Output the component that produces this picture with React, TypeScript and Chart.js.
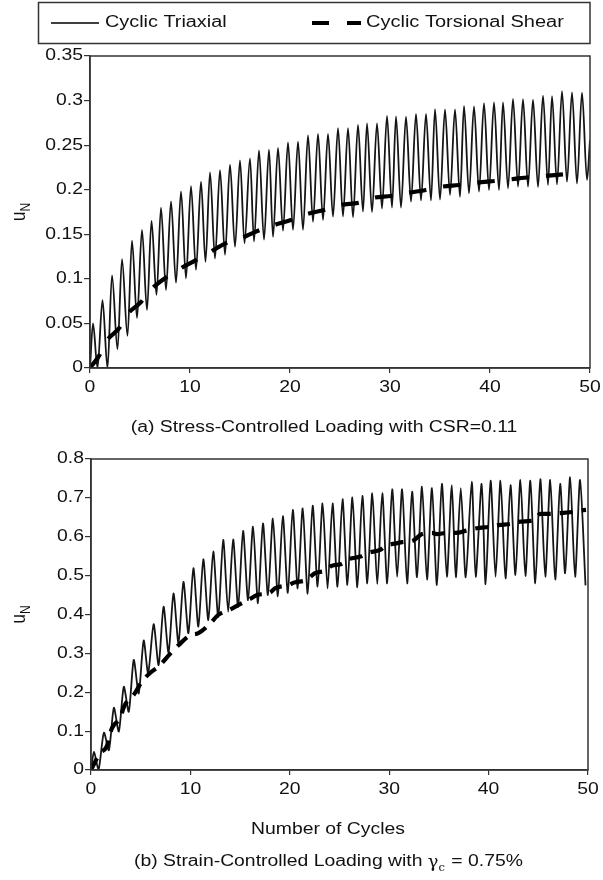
import React, { useEffect, useRef } from "react";
import { Chart, registerables } from "chart.js";

Chart.register(...registerables);

// ---------------- data ----------------
const xTickValues = [0, 10, 20, 30, 40, 50];

const yTickValuesA = [0, 0.05, 0.1, 0.15, 0.2, 0.25, 0.3, 0.35];
const yTickLabelsA = ["0", "0.05", "0.1", "0.15", "0.2", "0.25", "0.3", "0.35"];
const yTickValuesB = [0, 0.1, 0.2, 0.3, 0.4, 0.5, 0.6, 0.7, 0.8];
const yTickLabelsB = ["0", "0.1", "0.2", "0.3", "0.4", "0.5", "0.6", "0.7", "0.8"];

const legendLabels = ["Cyclic Triaxial", "Cyclic Torsional Shear"];
const captionA = "(a) Stress-Controlled Loading with CSR=0.11";
const captionBParts = ["(b) Strain-Controlled Loading with ", "\u03B3", "c", " = 0.75%"];
const xAxisTitle = "Number of Cycles";
const yAxisTitleParts = ["u", "N"];

// Panel (a) - cyclic triaxial: start, peaks, troughs, end
const triaxStartA = { x: 0, y: 0 };
const triaxPeakXA = [0.3, 1.25, 2.2, 3.2, 4.2, 5.2, 6.15, 7.1, 8.1, 9.1, 10.1, 11.1, 12.0, 13.0, 14.0, 15.0, 16.0, 16.9, 17.9, 18.8, 19.8, 20.8, 21.8, 22.8, 23.8, 24.8, 25.8, 26.8, 27.7, 28.7, 29.7, 30.6, 31.6, 32.6, 33.6, 34.5, 35.5, 36.5, 37.4, 38.4, 39.4, 40.4, 41.3, 42.3, 43.3, 44.3, 45.3, 46.2, 47.2, 48.2, 49.2];
const triaxPeakYA = [0.05, 0.076, 0.104, 0.122, 0.143, 0.155, 0.165, 0.18, 0.187, 0.198, 0.204, 0.209, 0.2195, 0.222, 0.228, 0.233, 0.235, 0.244, 0.245, 0.247, 0.253, 0.254, 0.261, 0.2625, 0.2625, 0.269, 0.269, 0.2726, 0.2745, 0.2745, 0.2827, 0.2823, 0.282, 0.285, 0.285, 0.2905, 0.29, 0.29, 0.294, 0.2935, 0.297, 0.298, 0.298, 0.3018, 0.3015, 0.301, 0.3055, 0.305, 0.3107, 0.3093, 0.309];
const triaxTroughXA = [0.75, 1.75, 2.75, 3.75, 4.7, 5.7, 6.65, 7.6, 8.6, 9.6, 10.6, 11.55, 12.5, 13.5, 14.5, 15.45, 16.4, 17.4, 18.3, 19.3, 20.3, 21.3, 22.3, 23.3, 24.3, 25.3, 26.3, 27.3, 28.2, 29.2, 30.2, 31.1, 32.1, 33.1, 34.1, 35.0, 36.0, 37.0, 37.9, 38.9, 39.9, 40.9, 41.8, 42.8, 43.8, 44.8, 45.8, 46.7, 47.7, 48.7, 49.7];
const triaxTroughYA = [0, 0, 0.021, 0.036, 0.056, 0.065, 0.082, 0.0875, 0.0957, 0.1006, 0.11, 0.119, 0.123, 0.127, 0.136, 0.14, 0.142, 0.144, 0.147, 0.154, 0.155, 0.155, 0.164, 0.166, 0.1698, 0.17, 0.169, 0.1754, 0.175, 0.179, 0.18, 0.18, 0.1866, 0.188, 0.188, 0.189, 0.194, 0.192, 0.196, 0.198, 0.1997, 0.1997, 0.2016, 0.2035, 0.2035, 0.203, 0.2053, 0.206, 0.209, 0.207, 0.211];
const triaxEndA = { x: 50, y: 0.256 };

// Panel (a) - cyclic torsional shear
const torsionXA = [0, 0.9, 1.7, 2.9, 3.8, 5.1, 6.2, 7.7, 9.1, 10.6, 12.0, 13.6, 15.2, 16.8, 18.3, 20.1, 21.7, 23.4, 25.1, 26.9, 28.4, 30.1, 31.9, 33.6, 35.2, 36.9, 38.7, 40.5, 42.1, 43.9, 45.5, 47.3];
const torsionYA = [0, 0.0135, 0.031, 0.0445, 0.061, 0.074, 0.089, 0.1024, 0.112, 0.121, 0.13, 0.14, 0.146, 0.154, 0.16, 0.166, 0.1727, 0.1772, 0.183, 0.1855, 0.191, 0.193, 0.1967, 0.1997, 0.2034, 0.2053, 0.2079, 0.2098, 0.2117, 0.214, 0.2154, 0.2173];

// Panel (b) - cyclic triaxial
const triaxStartB = { x: 0, y: 0 };
const triaxPeakXB = [0.3, 1.3, 2.3, 3.3, 4.3, 5.3, 6.3, 7.3, 8.3, 9.3, 10.3, 11.3, 12.3, 13.3, 14.3, 15.3, 16.3, 17.3, 18.3, 19.3, 20.3, 21.3, 22.3, 23.3, 24.3, 25.3, 26.3, 27.3, 28.3, 29.3, 30.3, 31.3, 32.3, 33.3, 34.3, 35.3, 36.3, 37.2, 38.3, 39.3, 40.2, 41.2, 42.2, 43.2, 44.2, 45.2, 46.2, 47.2, 48.2, 49.2];
const triaxPeakYB = [0.047, 0.096, 0.16, 0.214, 0.283, 0.333, 0.375, 0.42, 0.454, 0.484, 0.519, 0.542, 0.562, 0.592, 0.593, 0.615, 0.626, 0.634, 0.647, 0.653, 0.669, 0.673, 0.68, 0.686, 0.686, 0.697, 0.701, 0.705, 0.712, 0.712, 0.722, 0.722, 0.716, 0.729, 0.725, 0.736, 0.733, 0.725, 0.742, 0.736, 0.744, 0.744, 0.733, 0.746, 0.744, 0.748, 0.746, 0.736, 0.753, 0.746];
const triaxTroughXB = [0.75, 1.8, 2.8, 3.8, 4.8, 5.75, 6.8, 7.8, 8.8, 9.8, 10.8, 11.8, 12.8, 13.8, 14.8, 15.8, 16.8, 17.8, 18.8, 19.8, 20.8, 21.8, 22.8, 23.8, 24.8, 25.8, 26.8, 27.8, 28.8, 29.8, 30.8, 31.8, 32.8, 33.8, 34.8, 35.8, 36.7, 37.7, 38.7, 39.7, 40.7, 41.7, 42.7, 43.7, 44.7, 45.7, 46.7, 47.7, 48.7, 49.75];
const triaxTroughYB = [0, 0.051, 0.099, 0.15, 0.197, 0.249, 0.27, 0.302, 0.327, 0.352, 0.369, 0.386, 0.394, 0.407, 0.42, 0.437, 0.429, 0.45, 0.447, 0.456, 0.467, 0.454, 0.472, 0.467, 0.4716, 0.476, 0.47, 0.48, 0.478, 0.48, 0.497, 0.48, 0.496, 0.49, 0.476, 0.497, 0.496, 0.496, 0.497, 0.478, 0.497, 0.493, 0.502, 0.499, 0.48, 0.497, 0.49, 0.506, 0.497, 0.475];

// Panel (b) - cyclic torsional shear
const torsionXB = [0, 0.9, 1.57, 2.1, 2.9, 3.4, 4.4, 5.1, 6.1, 6.8, 8.0, 8.8, 10.0, 10.8, 12.0, 12.8, 14.0, 14.8, 16.0, 16.7, 18.0, 18.5, 19.9, 20.4, 21.7, 22.5, 23.6, 24.2, 25.2, 25.9, 27.1, 27.9, 29.1, 29.6, 30.7, 31.3, 32.4, 33.3, 34.3, 34.8, 35.8, 36.7, 37.8, 38.8, 40.2, 41.0, 42.2, 43.2, 44.6, 45.2, 46.2, 47.2, 48.2, 49.0, 49.8];
const torsionYB = [0, 0.043, 0.06, 0.107, 0.133, 0.167, 0.197, 0.227, 0.253, 0.266, 0.3, 0.321, 0.347, 0.352, 0.377, 0.399, 0.413, 0.424, 0.44, 0.45, 0.456, 0.467, 0.476, 0.482, 0.489, 0.506, 0.513, 0.525, 0.53, 0.542, 0.549, 0.559, 0.566, 0.576, 0.583, 0.586, 0.59, 0.607, 0.61, 0.607, 0.61, 0.61, 0.616, 0.622, 0.626, 0.63, 0.633, 0.639, 0.643, 0.659, 0.659, 0.661, 0.663, 0.667, 0.669];

// ---------------- helpers ----------------
type Pt = { x: number; y: number };

function buildWave(start: Pt, px: number[], py: number[], tx: number[], ty: number[], end?: Pt): Pt[] {
  const pts: Pt[] = [start];
  for (let i = 0; i < px.length; i++) {
    pts.push({ x: px[i], y: py[i] });
    if (i < tx.length) pts.push({ x: tx[i], y: ty[i] });
  }
  if (end) pts.push(end);
  return pts;
}

function zipPts(xs: number[], ys: number[]): Pt[] {
  return xs.map((x, i) => ({ x, y: ys[i] }));
}

const SANS = '"Liberation Sans", Arial, Helvetica, sans-serif';
const SERIF = '"DejaVu Serif", "Liberation Serif", serif';
const SX = 1.21;
const INK = "#111";
const FRAME = "#333";

function measure(ctx: CanvasRenderingContext2D, s: string, size: number, family: string, sx: number) {
  ctx.save();
  ctx.font = `${size}px ${family}`;
  const w = ctx.measureText(s).width * sx;
  ctx.restore();
  return w;
}

function drawText(
  ctx: CanvasRenderingContext2D,
  s: string,
  x: number,
  y: number,
  align: "left" | "center" | "right",
  size = 16,
  family = SANS,
  sx = SX
) {
  const w = measure(ctx, s, size, family, sx);
  let left = x;
  if (align === "center") left = x - w / 2;
  else if (align === "right") left = x - w;
  ctx.save();
  ctx.font = `${size}px ${family}`;
  ctx.textBaseline = "middle";
  ctx.textAlign = "left";
  ctx.fillStyle = INK;
  ctx.translate(left, y);
  ctx.scale(sx, 1);
  ctx.fillText(s, 0, 0);
  ctx.restore();
  return w;
}

function drawYTitle(ctx: CanvasRenderingContext2D, cx: number, cy: number) {
  ctx.save();
  ctx.translate(cx, cy);
  ctx.rotate(-Math.PI / 2);
  ctx.scale(1, 1.15);
  ctx.fillStyle = INK;
  ctx.textBaseline = "middle";
  ctx.font = `17px ${SANS}`;
  const wu = ctx.measureText(yAxisTitleParts[0]).width;
  ctx.font = `12px ${SANS}`;
  const wn = ctx.measureText(yAxisTitleParts[1]).width;
  const total = wu + wn;
  ctx.font = `17px ${SANS}`;
  ctx.fillText(yAxisTitleParts[0], -total / 2, -2);
  ctx.font = `12px ${SANS}`;
  ctx.fillText(yAxisTitleParts[1], -total / 2 + wu, 4);
  ctx.restore();
}

function makeDecor(yVals: number[], yLabels: string[], extra: (ctx: CanvasRenderingContext2D, chart: any) => void) {
  return {
    id: "decor",
    afterDraw(chart: any) {
      const ctx: CanvasRenderingContext2D = chart.ctx;
      const a = chart.chartArea;
      const xs = chart.scales.x;
      const ys = chart.scales.y;
      ctx.save();
      ctx.strokeStyle = FRAME;
      ctx.lineWidth = 1.5;
      ctx.strokeRect(a.left, a.top, a.right - a.left, a.bottom - a.top);
      ctx.restore();
      yVals.forEach((v, i) => {
        drawText(ctx, yLabels[i], a.left - 7, ys.getPixelForValue(v), "right");
      });
      xTickValues.forEach((v) => {
        drawText(ctx, String(v), xs.getPixelForValue(v), a.bottom + 20, "center");
      });
      drawYTitle(ctx, 22, (a.top + a.bottom) / 2);
      extra(ctx, chart);
    },
  };
}

function axisOptions(min: number, max: number, step: number, isX: boolean, fit: number) {
  return {
    type: "linear",
    min,
    max,
    ticks: { display: false, stepSize: step },
    grid: {
      display: true,
      drawOnChartArea: false,
      drawTicks: true,
      tickLength: isX ? 5 : 6,
      color: FRAME,
      lineWidth: 1.2,
    },
    border: { display: true, color: FRAME, width: 1.5 },
    afterFit: (s: any) => {
      if (isX) s.height = fit;
      else s.width = fit;
    },
  };
}

function datasets(triax: Pt[], torsion: Pt[], dash: number[], smoothMonotone: boolean) {
  const triaxCurve = smoothMonotone
    ? { cubicInterpolationMode: "monotone" }
    : { cubicInterpolationMode: "default", tension: 0.25 };
  return [
    {
      label: legendLabels[1],
      data: torsion,
      borderColor: "#000",
      borderWidth: 4.2,
      borderDash: dash,
      borderCapStyle: "butt",
      pointRadius: 0,
      cubicInterpolationMode: "monotone",
      fill: false,
      order: 0,
    },
    {
      label: legendLabels[0],
      data: triax,
      borderColor: "#151515",
      borderWidth: 1.8,
      pointRadius: 0,
      fill: false,
      order: 1,
      ...triaxCurve,
    },
  ];
}

const H_A = 445;
const H_B = 435;

export default function App() {
  const refA = useRef<HTMLCanvasElement>(null);
  const refB = useRef<HTMLCanvasElement>(null);

  useEffect(() => {
    const triaxA = buildWave(triaxStartA, triaxPeakXA, triaxPeakYA, triaxTroughXA, triaxTroughYA, triaxEndA);
    const triaxB = buildWave(triaxStartB, triaxPeakXB, triaxPeakYB, triaxTroughXB, triaxTroughYB);
    const torsA = zipPts(torsionXA, torsionYA);
    const torsB = zipPts(torsionXB, torsionYB);

    const decorA = makeDecor(yTickValuesA, yTickLabelsA, (ctx) => {
      // legend box
      ctx.save();
      ctx.strokeStyle = FRAME;
      ctx.lineWidth = 1.5;
      ctx.strokeRect(38.5, 2.5, 551.5, 41);
      ctx.strokeStyle = "#000";
      ctx.lineWidth = 1.5;
      ctx.beginPath();
      ctx.moveTo(51, 23);
      ctx.lineTo(99, 23);
      ctx.stroke();
      ctx.lineWidth = 4.2;
      ctx.beginPath();
      ctx.moveTo(312, 23);
      ctx.lineTo(329, 23);
      ctx.moveTo(347, 23);
      ctx.lineTo(361, 23);
      ctx.stroke();
      ctx.restore();
      drawText(ctx, legendLabels[0], 105, 23, "left", 16, SANS, 1.24);
      drawText(ctx, legendLabels[1], 366, 23, "left", 16, SANS, 1.25);
      // caption (a)
      drawText(ctx, captionA, 324, 428, "center");
    });

    const decorB = makeDecor(yTickValuesB, yTickLabelsB, (ctx) => {
      drawText(ctx, xAxisTitle, 328, 830 - 445, "center");
      // caption (b) with gamma_c
      const y = 862 - 445;
      const w0 = measure(ctx, captionBParts[0], 16, SANS, SX);
      const w1 = measure(ctx, captionBParts[1], 17, SERIF, 1.05);
      const w2 = measure(ctx, captionBParts[2], 11, SERIF, 1.05);
      const w3 = measure(ctx, captionBParts[3], 16, SANS, SX);
      let x = 328 - (w0 + w1 + w2 + w3) / 2;
      drawText(ctx, captionBParts[0], x, y, "left");
      x += w0;
      drawText(ctx, captionBParts[1], x, y + 1, "left", 17, SERIF, 1.05);
      x += w1;
      drawText(ctx, captionBParts[2], x, y + 6, "left", 11, SERIF, 1.05);
      x += w2 + 1;
      drawText(ctx, captionBParts[3], x, y, "left");
    });

    const chartA = new Chart(refA.current as HTMLCanvasElement, {
      type: "line",
      data: { datasets: datasets(triaxA, torsA, [17.5, 17], true) as any },
      options: {
        animation: false,
        responsive: false,
        maintainAspectRatio: false,
        devicePixelRatio: 1,
        events: [],
        layout: { padding: { left: 0, right: 13, top: 56, bottom: H_A - 368 - 30 } },
        plugins: { legend: { display: false }, tooltip: { enabled: false }, title: { display: false } },
        scales: {
          x: axisOptions(0, 50, 10, true, 30) as any,
          y: axisOptions(0, 0.35, 0.05, false, 90) as any,
        },
      },
      plugins: [decorA as any],
    });

    const chartB = new Chart(refB.current as HTMLCanvasElement, {
      type: "line",
      data: { datasets: datasets(triaxB, torsB, [13, 9], false) as any },
      options: {
        animation: false,
        responsive: false,
        maintainAspectRatio: false,
        devicePixelRatio: 1,
        events: [],
        layout: { padding: { left: 0, right: 15, top: 459 - 445, bottom: H_B - (770 - 445) - 30 } },
        plugins: { legend: { display: false }, tooltip: { enabled: false }, title: { display: false } },
        scales: {
          x: axisOptions(0, 50, 10, true, 30) as any,
          y: axisOptions(0, 0.8, 0.1, false, 91) as any,
        },
      },
      plugins: [decorB as any],
    });

    return () => {
      chartA.destroy();
      chartB.destroy();
    };
  }, []);

  return (
    <div style={{ position: "absolute", left: 0, top: 0, width: 603, height: 880, background: "#fff" }}>
      <canvas
        ref={refA}
        width={603}
        height={H_A}
        style={{ position: "absolute", left: 0, top: 0, width: 603, height: H_A, display: "block" }}
      />
      <canvas
        ref={refB}
        width={603}
        height={H_B}
        style={{ position: "absolute", left: 0, top: H_A, width: 603, height: H_B, display: "block" }}
      />
    </div>
  );
}
